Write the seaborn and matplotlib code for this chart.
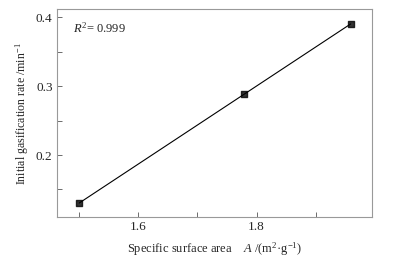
import matplotlib
matplotlib.use("Agg")
import matplotlib.pyplot as plt
from matplotlib.ticker import MultipleLocator
import seaborn as sns
import pandas as pd

surface_area = [1.50, 1.779, 1.959]
gas_rate = [0.130, 0.289, 0.390]
x_ticks = [1.6, 1.8]
y_ticks = [0.2, 0.3, 0.4]

df = pd.DataFrame({"A": surface_area, "rate": gas_rate})

sns.set_theme(style="ticks")
plt.rcParams["font.family"] = ["Liberation Serif", "DejaVu Serif"]
plt.rcParams["mathtext.fontset"] = "custom"
plt.rcParams["mathtext.rm"] = "Liberation Serif"
plt.rcParams["mathtext.it"] = "Liberation Serif:italic"

fig = plt.figure(figsize=(4.05, 2.57), dpi=100)
ax = fig.add_axes([56.7 / 405, 1 - 217 / 257, (372 - 56.7) / 405, (217 - 9.3) / 257])

sns.regplot(data=df, x="A", y="rate", ax=ax, ci=None, truncate=True,
            marker="s", scatter_kws={"s": 14, "color": "black", "zorder": 3},
            line_kws={"color": "black", "lw": 0.8})

ax.set_xlim(1.462, 1.995)
ax.set_ylim(0.110, 0.4116)
ax.set_xticks(x_ticks)
ax.set_yticks(y_ticks)
ax.xaxis.set_minor_locator(MultipleLocator(0.1))
ax.yaxis.set_minor_locator(MultipleLocator(0.05))
ax.tick_params(which="both", direction="in", length=3.6, width=0.6, color="#555555",
               labelsize=9.5, top=False, right=False, pad=3)
for s in ax.spines.values():
    s.set_color("#999999")
    s.set_linewidth(0.8)

ax.set_xlabel("Specific surface area    $A$ /(m$^2$·g$^{-1}$)", fontsize=9, va="center")
ax.xaxis.set_label_coords(0.5, -0.154)
ax.set_ylabel("Initial gasification rate /min$^{-1}$", fontsize=8.6, va="center")
ax.yaxis.set_label_coords(-0.111, 0.5)
ax.text(0.052, 0.91, "$R^2$= 0.999", transform=ax.transAxes, fontsize=9, va="center")

fig.savefig("out.png", dpi=100)
